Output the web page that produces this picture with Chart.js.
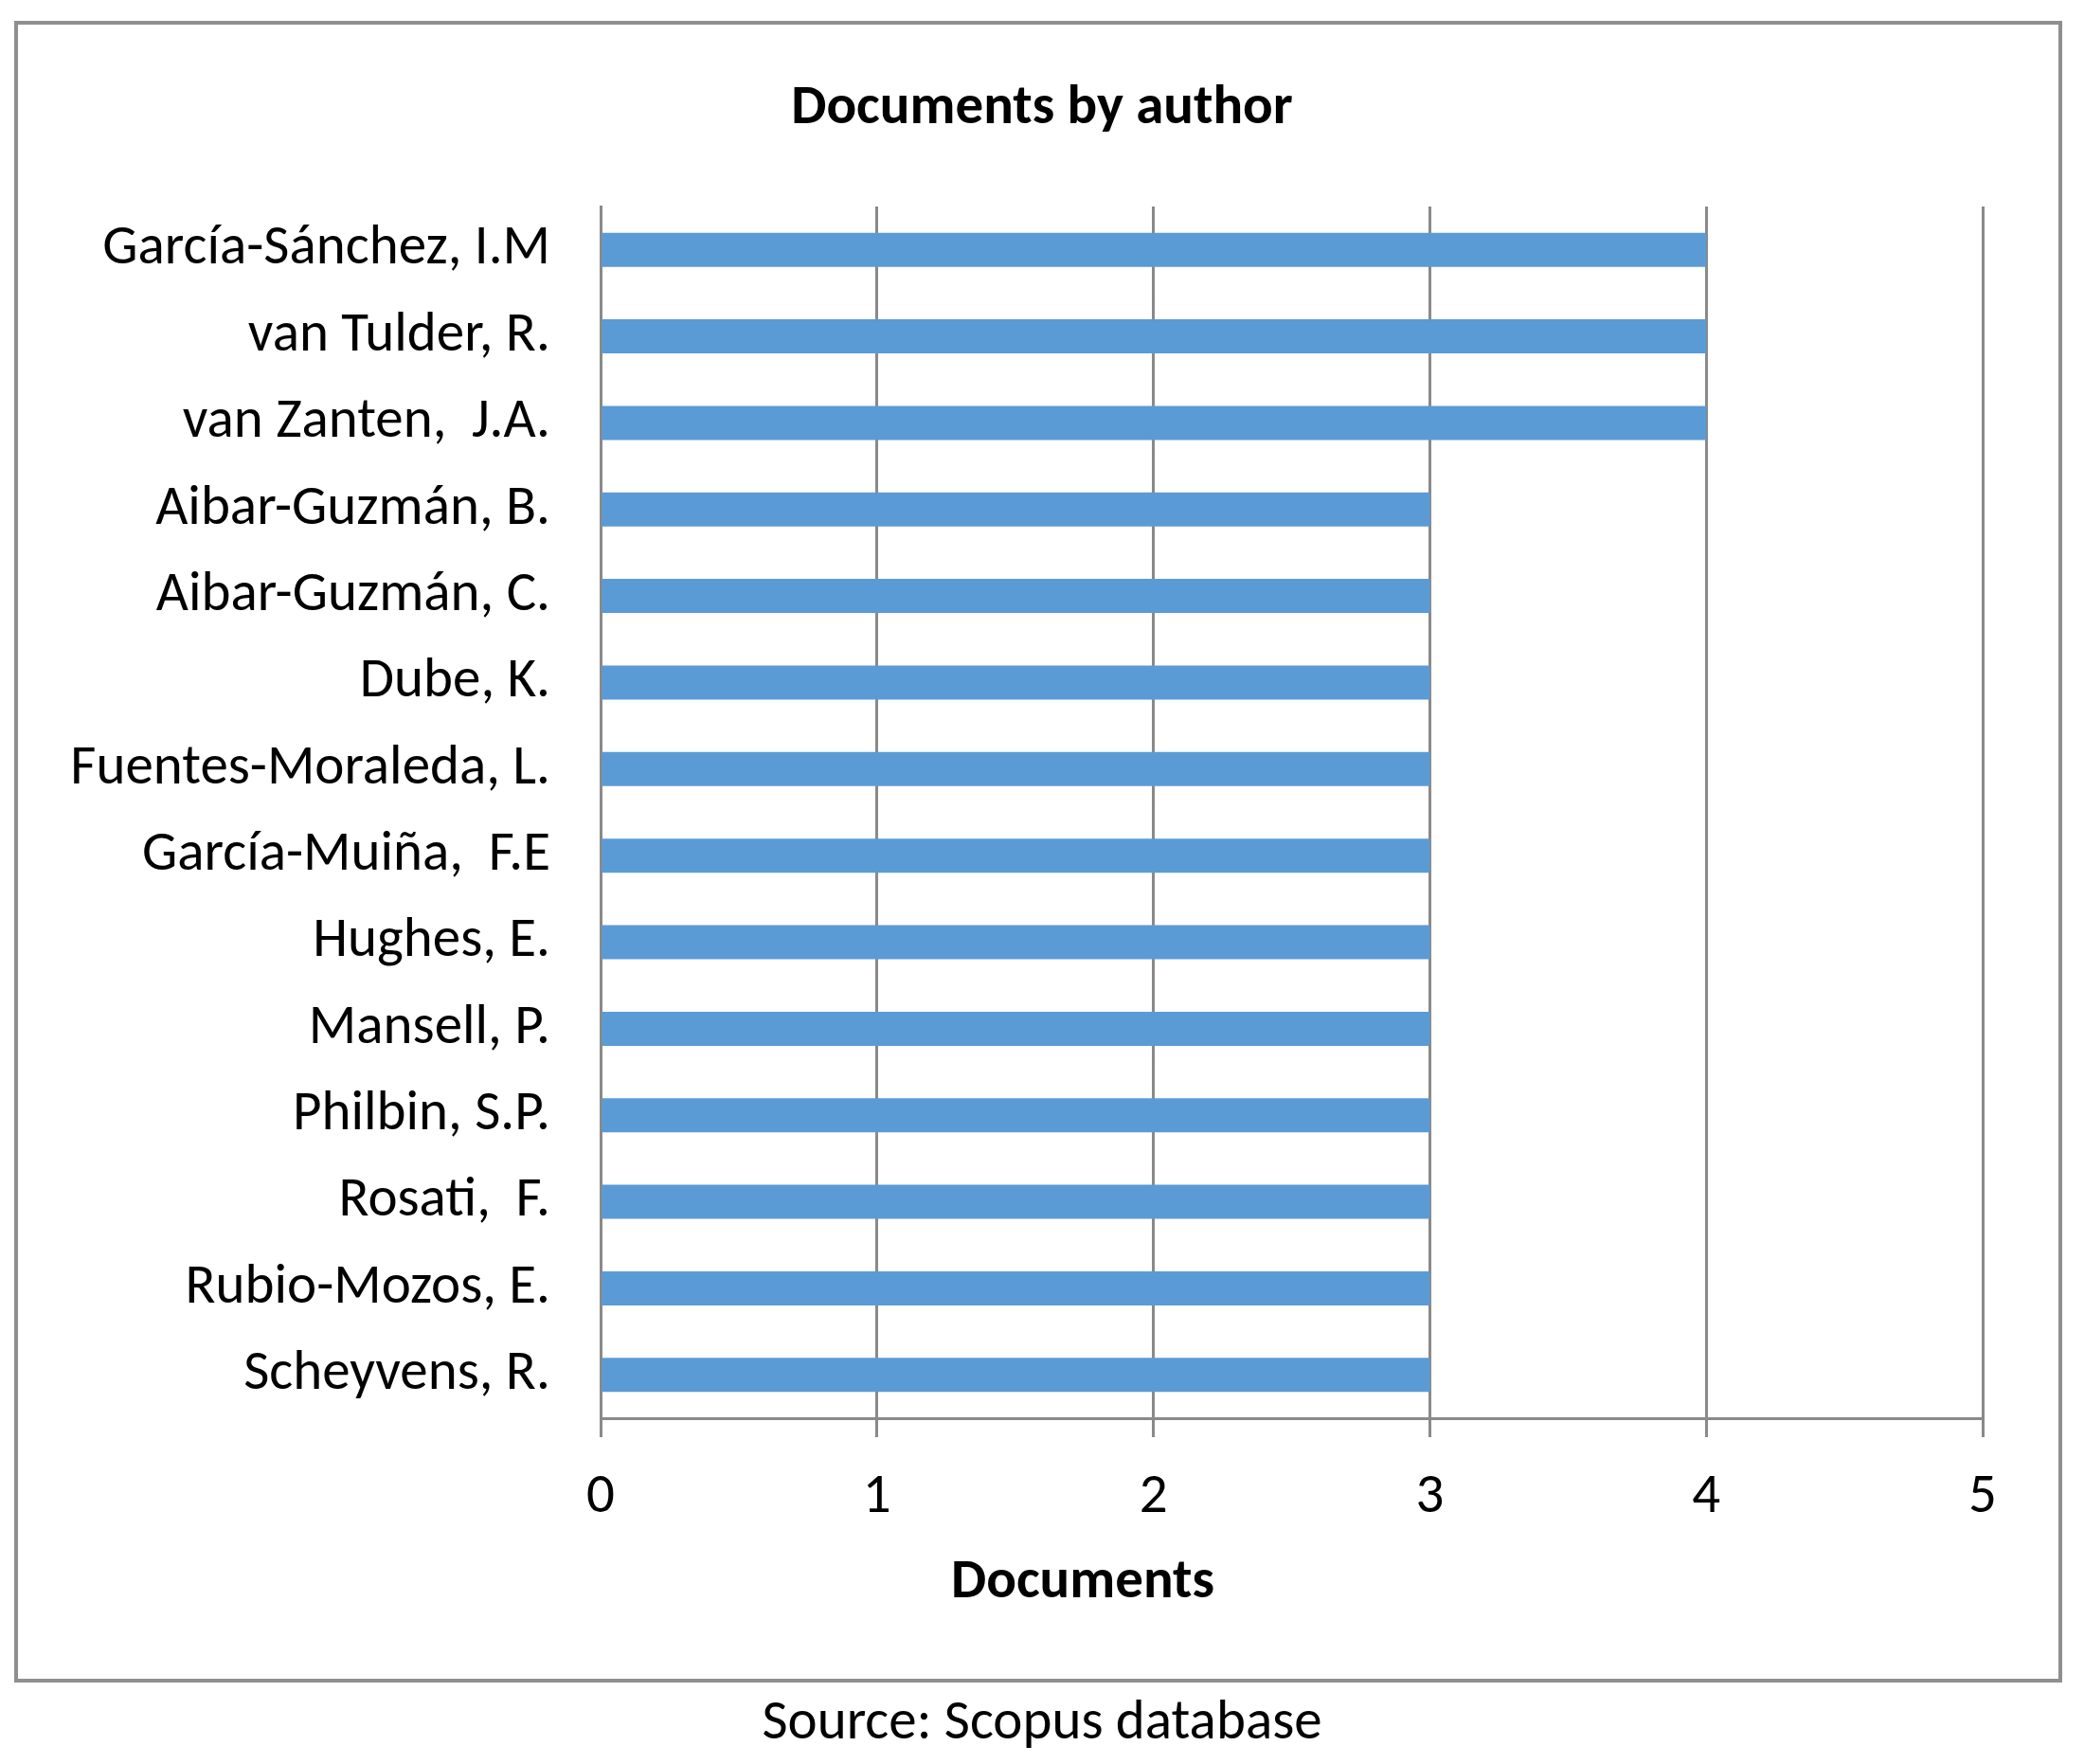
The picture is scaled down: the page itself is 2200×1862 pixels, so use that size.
<!DOCTYPE html>
<html>
<head>
<meta charset="utf-8">
<script src="https://cdn.jsdelivr.net/npm/chart.js@4"></script>
<style>
  html, body { margin: 0; padding: 0; background: #fff; }
  #wrap { position: relative; width: 2200px; height: 1862px; }
</style>
</head>
<body>
<div id="wrap"><canvas id="barChart"></canvas></div>
<script>
document.addEventListener('DOMContentLoaded', function () {

// authors, top to bottom
let authors = [
    'García-Sánchez, I.M',
    'van Tulder, R.',
    'van Zanten,  J.A.',
    'Aibar-Guzmán, B.',
    'Aibar-Guzmán, C.',
    'Dube, K.',
    'Fuentes-Moraleda, L.',
    'García-Muiña,  F.E',
    'Hughes, E.',
    'Mansell, P.',
    'Philbin, S.P.',
    'Rosati,  F.',
    'Rubio-Mozos, E.',
    'Scheyvens, R.'
]
let documents = [4, 4, 4, 3, 3, 3, 3, 3, 3, 3, 3, 3, 3, 3]
let xTicks = [0, 1, 2, 3, 4, 5]

let fontFamily = 'Carlito, Lato, sans-serif'
let fontSize = 59
let gray = '#8a8a8a'

// frame around the figure and the x axis title (it sits off centre in the original)
let framePlugin = {
    id: 'frame',
    beforeDraw(chart) {
        let c = chart.ctx
        c.save()
        c.strokeStyle = '#8f8f8f'
        c.lineWidth = 4
        c.strokeRect(17, 24, 2158, 1750)
        c.restore()
    },
    afterDraw(chart) {
        let c = chart.ctx
        c.save()
        c.fillStyle = '#000'
        c.font = 'bold ' + fontSize + 'px ' + fontFamily
        c.textAlign = 'center'
        c.textBaseline = 'middle'
        c.fillText('Documents', 1143, 1671)
        c.restore()
    }
}

let ctx = document.getElementById('barChart').getContext('2d')

let barChart = new Chart(ctx, {
    type: 'bar',
    data: {
        labels: authors,
        datasets: [
            {
                label: 'Documents',
                data: documents,
                backgroundColor: '#5b9bd5',
                barPercentage: 0.394,
                categoryPercentage: 1
            }
        ]
    },
    options: {
        indexAxis: 'y',
        responsive: true,
        maintainAspectRatio: false,
        animation: false,
        layout: { padding: 0 },
        plugins: {
            legend: { display: false },
            tooltip: { enabled: false },
            title: {
                display: true,
                text: 'Documents by author',
                color: '#000',
                font: { family: fontFamily, size: fontSize, weight: 'bold', lineHeight: 1.2 },
                padding: { top: 79.6, bottom: 67.6 }
            },
            subtitle: {
                display: true,
                position: 'bottom',
                text: 'Source: Scopus database',
                color: '#000',
                font: { family: fontFamily, size: fontSize, weight: 'normal', lineHeight: 1.2 },
                padding: { top: 13, bottom: 6.6 }
            }
        },
        scales: {
            x: {
                min: 0,
                max: 5,
                afterBuildTicks: axis => { axis.ticks = xTicks.map(v => ({ value: v })) },
                afterFit: axis => { axis.height = 274.6 },
                grid: { color: gray, lineWidth: 3, tickLength: 20 },
                border: { color: gray, width: 3 },
                ticks: {
                    color: '#000',
                    padding: 28.6,
                    font: { family: fontFamily, size: fontSize }
                }
            },
            y: {
                afterFit: axis => { axis.width = 634 },
                grid: { display: false, drawTicks: false },
                border: { color: gray, width: 3 },
                ticks: {
                    color: '#000',
                    padding: 53,
                    font: { family: fontFamily, size: fontSize }
                }
            },
            // empty space on the right of the plot, keeps titles centred on the page
            yRight: {
                axis: 'y',
                type: 'linear',
                position: 'right',
                afterFit: axis => { axis.width = 107 },
                grid: { display: false, drawTicks: false },
                border: { display: false },
                ticks: { display: false }
            }
        }
    },
    plugins: [framePlugin]
})
})
</script>
</body>
</html>
